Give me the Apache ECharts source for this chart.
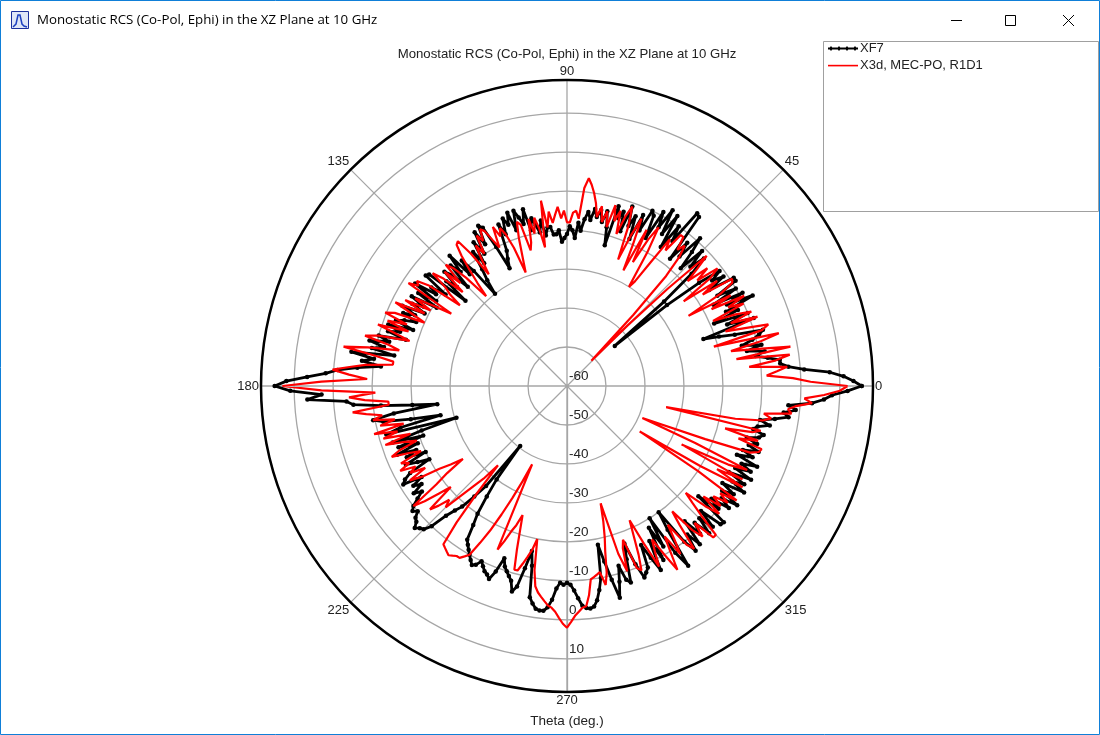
<!DOCTYPE html>
<html>
<head>
<meta charset="utf-8">
<title>Monostatic RCS (Co-Pol, Ephi) in the XZ Plane at 10 GHz</title>
<script src="https://cdn.jsdelivr.net/npm/echarts@6/dist/echarts.min.js"></script>
<style>
  html, body { margin: 0; padding: 0; background: #fff; }
  #main { width: 1100px; height: 735px; }
</style>
</head>
<body>
<div id="main"></div>
<script>
const windowTitle = "Monostatic RCS (Co-Pol, Ephi) in the XZ Plane at 10 GHz";
const seriesNames = ["XF7", "X3d, MEC-PO, R1D1"];
const stepDeg = 1;

// dB values, one per degree of theta, quadrant by quadrant
const xf7Q1 = [15.6, 13.5, 11, 7.5, 1, -3, -5, -5, -8, -11, -8.5, -13, -9, -14, -11, -9, -7.7, -15, -19, -23, -9, -16, -10, -19, -12, -15, -7, -14, -9, -17, -10, -15, -9, -9, -16, -11, -14, -11, -17, -27, -44, -27, -17, -12, -16, -11, -18, -13, -9, -16, -12, -18, -5, -4.5, -14, -10, -17, -8, -14, -7.4, -13, -9, -17, -11, -10, -16, -12, -19, -13, -16, -11, -18, -13, -15, -12, -22.6, -18, -14, -17, -14, -16, -14, -17, -15, -17, -20, -18, -22, -20, -19];
const xf7Q2 = [-21, -22, -23, -20, -21, -21, -19, -19, -21, -17, -20, -18, -16, -19, -13.3, -17, -15, -13, -18, -13, -16, -14, -18, -15, -22, -24, -26.4, -20, -14, -13, -18, -14, -20, -16, -22, -18, -23, -26, -30, -22, -18, -22, -15, -20, -17, -24, -19, -17, -22, -19, -26, -14.5, -14, -21, -17, -19, -13, -20, -15, -21, -14, -18, -15, -19, -13, -17, -14, -18, -15, -13, -18, -11.5, -15, -12, -17, -10, -13, -8, -12, -9, -15, -4, -10, -7, -12, -6, -1, 2, 6.7, 12];
const xf7Q3 = [15, 11, 3, 6.7, -3.3, -5, -12, -20, -26.4, -15, -9.5, -12, -19, -26.7, -16, -12, -30.5, -21, -13, -21, -14, -19, -13, -18, -15, -20, -14, -17, -20, -14, -12, -11, -16, -13, -15, -12, -14, -12, -10, -9, -10, -8.5, -8, -6.6, -7.5, -8, -10, -14.5, -17, -19, -23, -27, -40.5, -30, -25, -20, -17, -13, -12, -11, -10, -9, -8, -8.5, -10, -9, -8, -7.5, -6.6, -9, -13, -11, -10, -9, -8, -5.4, -7, -12, -16.7, -13, -5, -3.5, -2.3, -2, -2, -3, -5, -8, -9.5, -9];
const xf7Q4 = [-9.5, -9, -7.5, -5.5, -3.5, -2.8, -2.6, -3, -4.5, -7, -10, -18.5, -14, -9, -4, -8, -12, -8, -7, -13, -17, -11, -7, -8, -9, -15, -11, -7, -15, -9, -18, -12, -20, -9, -4.4, -15, -20, -10, -6.4, -11, -7, -14, -9, -12, -7.5, -12, -8, -13, -7, -6.7, -16, -10, -13, -8, -11, -6.7, -12, -9, -13, -7, -11, -8, -13, -7, -12, -8, -11, -7, -13, -9, -12, -8, -11, -9, -12, -9, -8, -11, -10, -7, -9.7, -6, -2.6, -4, -1, -3, 3, 6, 8, 12];

const x3dQ1 = [12, 2.5, -2, -8.7, -6, -3.3, -13, -6, -2.3, -16, -1.8, -10, -17, -9, -4, -21, -8, -6, -12, -17, -8, -15, -9, -13, -19, -10, -14, -9, -18, -12, -24, -14, -10, -9.5, -18, -13, -23, -14, -11, -17, -13, -19, -15, -11, -24, -38, -51, -35, -22, -16, -13, -15, -11.5, -11.5, -17, -14, -22, -28, -30, -20, -13, -17, -24, -15, -27, -20, -13, -18, -25, -16, -11, -14, -19, -13, -16, -12, -18, -14, -17, -13, -16, -12.5, -10, -8, -6.4, -9, -17, -15, -15.5, -18];
const x3dQ2 = [-18, -15, -17, -14, -16, -18, -15, -19, -12, -24, -19, -16, -20, -16, -22, -24, -17, -16, -20, -25, -29, -22, -18, -16, -18, -15, -20.5, -18, -15, -14, -17, -15, -20, -17, -21, -25, -18, -13.5, -14, -17, -21, -25, -29, -22, -18, -16, -22, -17, -24, -18, -15, -20, -22, -25.6, -16, -13, -14, -11.5, -25, -20, -15, -20, -13, -19, -11, -16, -20, -12, -9.7, -16, -11, -17, -9, -14, -18, -10, -6.6, -13, -16, -8, -1.8, -10, -15, -15, -8, -4, 0.3, -4, -8.7, 3];
const x3dQ3 = [13, 3, -10.8, -4, -8, -14, -14, -4.6, -8, -12, -9.5, -15, -11, -17, -9, -15, -11, -18, -11, -16, -19, -14, -11.5, -16, -19, -13, -15, -12, -16, -14, -18, -13, -16, -21, -24, -27.4, -22, -18, -10, -13, -17, -20.5, -12.7, -15, -18, -16, -21, -25, -28, -33, -24, -15, -8.5, -8, -7.5, -7, -7.5, -8, -8, -9, -10, -14, -18, -23, -28, -33, -38, -14.4, -17, -20, -22, -25, -21, -16, -11, -11, -13, -15, -17, -20, -12, -8, -6.5, -5.5, -4.5, -3.5, -3, -2, -0.5, 1];
const x3dQ4 = [2, 0.5, -1, -2, -3, -3.3, -6, -10, -10.5, -11, -11.5, -8, -11, -16.4, -20, -24, -28.7, -15, -10, -16, -18, -10, -9, -13, -18, -22, -15, -8, -12, -15, -10, -5, -10, -14, -8, -12, -16, -9, -7, -14, -18, -11, -8, -12, -6, -6, -12, -16, -19, -13, -9, -15, -10, -13, -9, -12, -7.5, -20, -38, -20, -8, -16, -9, -27, -14, -9, -24, -39, -39, -22, -10, -8, -7.5, -14, -9, -18, -11, -9, -34, -16, -9, -7, -9, -2, -3, -1, 3, 1, 6, 10];

const radiusTicks = [-60, -50, -40, -30, -20, -10, 0, 10];
const radiusMin = -60;
const radiusMax = 18.5;

// axis runs 270..630 so the radius labels sit on the downward spoke
const toPolar = (values) => {
  const pts = values.map((v, i) => {
    const theta = i * stepDeg;
    return [v, theta < 270 ? theta + 360 : theta];
  });
  pts.push([values[0], 360]);
  return pts;
};

const xf7 = toPolar([...xf7Q1, ...xf7Q2, ...xf7Q3, ...xf7Q4]);
const x3d = toPolar([...x3dQ1, ...x3dQ2, ...x3dQ3, ...x3dQ4]);

const chart = echarts.init(document.getElementById("main"));
const font = "Liberation Sans";
const ink = "#222";

chart.setOption({
  animation: false,
  backgroundColor: "#fff",
  textStyle: { fontFamily: font },
  title: [
    {
      text: windowTitle,
      left: 37,
      top: 14,
      padding: 0,
      textStyle: { fontFamily: "Open Sans", fontWeight: "normal", fontSize: 13.3, color: "#000" },
    },
    {
      text: windowTitle,
      left: 567,
      top: 48,
      padding: 0,
      textAlign: "center",
      textStyle: { fontFamily: font, fontWeight: "normal", fontSize: 13.2, color: ink },
    },
  ],
  legend: {
    left: 826,
    top: 40,
    orient: "vertical",
    itemWidth: 30,
    itemHeight: 5,
    itemGap: 4,
    padding: [2, 2],
    selectedMode: false,
    textStyle: { fontFamily: font, fontSize: 13, color: ink, padding: [0, 0, 0, -3] },
    data: [
      { name: seriesNames[0], icon: "path://M0 1.5H30V3.5H0ZM3 0L5 2.5L3 5L1 2.5ZM11 0L13 2.5L11 5L9 2.5ZM19 0L21 2.5L19 5L17 2.5ZM27 0L29 2.5L27 5L25 2.5Z" },
      { name: seriesNames[1], icon: "path://M0 0L0 0M0 5L0 5M0 1.8H30V3.4H0Z" },
    ],
  },
  polar: { center: [567, 386], radius: 306 },
  angleAxis: {
    type: "value",
    min: 270,
    max: 630,
    interval: 45,
    startAngle: 270,
    clockwise: false,
    axisLine: { lineStyle: { color: "#000", width: 2.5 } },
    axisTick: { show: false },
    axisLabel: {
      margin: 2,
      fontSize: 13,
      color: ink,
      formatter: (v) => String(v % 360),
    },
    splitLine: { lineStyle: { color: "#a6a6a6", width: 1.3 } },
  },
  radiusAxis: {
    type: "value",
    min: radiusMin,
    max: radiusMax,
    interval: 10,
    axisLine: { lineStyle: { color: "#a6a6a6", width: 1.3 } },
    axisTick: { show: false },
    axisLabel: {
      color: ink,
      fontSize: 13.5,
      margin: 2,
      align: "left",
      verticalAlign: "bottom",
      padding: [0, 0, 3, 0],
      showMaxLabel: false,
      formatter: (v) => (radiusTicks.includes(v) ? String(v) : ""),
    },
    splitLine: { show: true, lineStyle: { color: "#a6a6a6", width: 1.3 } },
  },
  series: [
    {
      name: seriesNames[0],
      type: "line",
      coordinateSystem: "polar",
      data: xf7,
      symbol: "circle",
      symbolSize: 4.5,
      showSymbol: true,
      showAllSymbol: true,
      silent: true,
      itemStyle: { color: "#000" },
      lineStyle: { color: "#000", width: 2.8 },
      z: 3,
    },
    {
      name: seriesNames[1],
      type: "line",
      coordinateSystem: "polar",
      data: x3d,
      symbol: "none",
      silent: true,
      itemStyle: { color: "#f00" },
      lineStyle: { color: "#f00", width: 2.2 },
      z: 4,
    },
  ],
  // window frame around the plot: border, icon, min/max/close, legend box
  graphic: [
    { type: "rect", shape: { x: 0.5, y: 0.5, width: 1099, height: 734 }, style: { fill: null, stroke: "#0f7fd8", lineWidth: 1 }, silent: true },
    { type: "rect", shape: { x: 823.5, y: 41.5, width: 275, height: 170 }, style: { fill: null, stroke: "#a0a0a0", lineWidth: 1 }, silent: true, z: -1 },
    { type: "rect", shape: { x: 11.5, y: 11.5, width: 17, height: 17 }, style: { fill: "#dfe6f7", stroke: "#1c2f9c", lineWidth: 1 }, silent: true },
    { type: "polyline", shape: { points: [[13, 27], [16, 24], [18, 15], [20, 15], [22, 24], [24, 26], [27, 27]] }, style: { fill: null, stroke: "#1c3fc0", lineWidth: 1.5 }, silent: true },
    { type: "line", shape: { x1: 951, y1: 20.5, x2: 962, y2: 20.5 }, style: { stroke: "#000", lineWidth: 1 }, silent: true },
    { type: "rect", shape: { x: 1005.5, y: 15.5, width: 10, height: 10 }, style: { fill: null, stroke: "#000", lineWidth: 1 }, silent: true },
    { type: "line", shape: { x1: 1063, y1: 15, x2: 1074, y2: 26 }, style: { stroke: "#000", lineWidth: 1 }, silent: true },
    { type: "line", shape: { x1: 1074, y1: 15, x2: 1063, y2: 26 }, style: { stroke: "#000", lineWidth: 1 }, silent: true },
    { type: "text", style: { text: "Theta (deg.)", x: 567, y: 721, align: "center", verticalAlign: "middle", fontFamily: font, fontSize: 13.5, fill: ink }, silent: true },
  ],
});
</script>
</body>
</html>
